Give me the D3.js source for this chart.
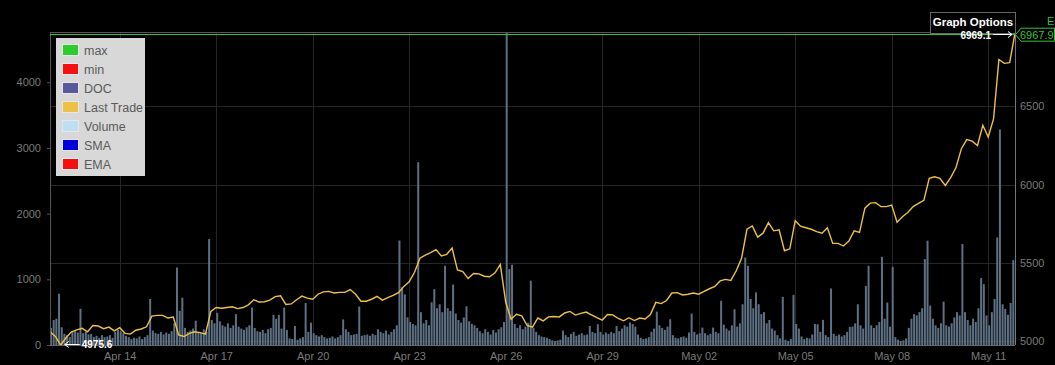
<!DOCTYPE html>
<html>
<head>
<meta charset="utf-8">
<script src="https://cdn.jsdelivr.net/npm/d3@7"></script>
<style>
body{margin:0;background:#000;}
svg{display:block;font-family:"Liberation Sans",Arial,sans-serif;}
</style>
</head>
<body>
<svg width="1055" height="365"></svg>
<script>
// time base of both series
var startTime = "2019-04-11 20:00"
var priceStepHours = 4
var volumeStepHours = 2

// last trade price, one value every 4 hours
var lastTrade = [
5060,5030,4975.6,5022,5060,5072,5082,5060,5100,5097,
5080,5090,5066,5086,5050,5045,5070,5078,5092,5160,
5165,5165,5148,5154,5040,5030,5050,5060,5055,5045,
5190,5215,5210,5215,5220,5208,5215,5232,5265,5250,
5252,5262,5285,5290,5235,5238,5265,5288,5275,5268,
5300,5315,5318,5308,5312,5312,5330,5300,5255,5255,
5268,5286,5262,5278,5292,5310,5350,5380,5440,5530,
5550,5566,5585,5545,5555,5595,5455,5445,5400,5432,
5430,5415,5412,5437,5490,5250,5140,5172,5162,5100,
5090,5148,5130,5155,5158,5155,5180,5190,5167,5178,
5186,5168,5150,5135,5170,5168,5145,5130,5150,5132,
5148,5142,5170,5248,5240,5260,5308,5310,5295,5300,
5308,5300,5318,5335,5350,5385,5395,5388,5450,5530,
5715,5736,5665,5690,5757,5705,5712,5578,5590,5770,
5735,5725,5715,5700,5690,5725,5625,5625,5608,5640,
5705,5695,5850,5882,5885,5860,5860,5870,5760,5795,
5822,5860,5880,5900,6040,6050,6040,5995,6045,6110,
6230,6288,6278,6250,6380,6305,6420,6800,6775,6780,
6967.9
]

// volume, one bar every 2 hours (one row = one day)
var volume = [
260,380,400,780,270,170,150,120,200,210,190,550,
180,200,160,170,120,140,110,150,120,130,150,110,
200,230,210,180,140,120,90,110,100,130,90,120,
150,700,220,180,170,200,160,190,170,210,330,1180,
520,720,260,200,220,250,370,200,180,240,200,1613,
380,330,490,360,300,280,330,260,300,470,280,250,
230,270,300,570,260,210,200,230,180,240,260,460,
400,460,250,570,230,100,90,290,80,100,120,640,
200,340,180,150,130,150,120,100,110,130,100,120,
150,390,240,200,150,160,170,585,140,150,160,140,
170,150,240,200,180,220,160,200,240,300,1590,880,
770,420,350,320,300,2783,500,330,380,300,650,850,
560,620,500,1206,560,520,920,480,380,340,420,590,
360,320,300,260,210,180,240,200,160,230,190,240,
270,350,4750,1155,1221,320,260,300,240,280,340,980,
260,200,150,130,120,110,90,70,60,70,80,220,
150,120,170,200,140,160,180,150,160,290,200,180,
316,200,160,190,170,200,180,290,210,250,300,280,
342,320,280,160,110,90,100,120,200,250,508,300,
260,230,280,392,150,110,100,120,130,110,190,478,
200,160,180,265,180,150,170,265,200,180,672,310,
250,220,300,545,280,330,620,1333,1206,700,560,800,
620,470,500,330,380,250,220,150,100,733,80,60,
90,763,320,250,130,90,110,100,160,320,316,200,
382,150,120,860,170,140,160,130,150,200,275,280,
330,621,300,250,900,1206,300,260,300,350,1343,400,
646,280,1190,120,80,60,70,100,260,400,470,450,
500,560,1308,1588,600,400,300,260,330,660,300,280,
330,420,500,450,1537,500,380,300,400,350,560,1018,
926,450,300,500,700,1639,3282,620,550,460,640,1293
]

var tickDates = ["2019-04-14","2019-04-17","2019-04-20","2019-04-23","2019-04-26","2019-04-29","2019-05-02","2019-05-05","2019-05-08","2019-05-11"]
var volTicks = [0,1000,2000,3000,4000]
var priceTicks = [5000,5500,6000,6500]
var priceMin = 4975.6
var priceMax = 6969.1
var volMax = 4750

var legendNames = ["max","min","DOC","Last Trade","Volume","SMA","EMA"]
var legendColors = ["#2ccc2c","#f41010","#58589c","#edc048","#bcdff4","#0000dd","#f41010"]

var plotL = 50, plotR = 1015, plotT = 33, plotB = 345

var parseTime = d3.timeParse("%Y-%m-%d %H:%M")
var parseDay = d3.timeParse("%Y-%m-%d")
var t0 = parseTime(startTime)
var priceData = lastTrade.map(function(v, i){ return {t: d3.timeHour.offset(t0, i*priceStepHours), v: v} })
var volData = volume.map(function(v, i){ return {t: d3.timeHour.offset(t0, i*volumeStepHours), v: v} })
var ticks = tickDates.map(parseDay)

var xScale = d3.scaleTime().domain([t0, priceData[priceData.length-1].t]).range([plotL, plotR])
var yPrice = d3.scaleLinear().domain([priceMin, priceMax]).range([plotB, plotT])
var yVol = d3.scaleLinear().domain([0, volMax]).range([plotB, plotT])

var svg = d3.select("svg")

// grid
svg.append("g").selectAll("line").data(ticks).enter().append("line")
.attr("x1", function(d){return Math.round(xScale(d))+0.5}).attr("x2", function(d){return Math.round(xScale(d))+0.5})
.attr("y1", plotT).attr("y2", plotB)
.style("stroke", "#262626")
svg.append("g").selectAll("line").data(priceTicks).enter().append("line")
.attr("x1", plotL).attr("x2", plotR)
.attr("y1", function(d){return Math.round(yPrice(d))+0.5}).attr("y2", function(d){return Math.round(yPrice(d))+0.5})
.style("stroke", "#262626")

// volume bars
svg.append("g").attr("id", "volG").selectAll("rect").data(volData).enter().append("rect")
.attr("x", function(d){return xScale(d.t)})
.attr("width", function(d){return Math.max(1, xScale(d3.timeHour.offset(d.t, volumeStepHours)) - xScale(d.t) - 0.7)})
.attr("y", function(d){return yVol(d.v)})
.attr("height", function(d){return plotB - yVol(d.v)})
.style("fill", "#5e7184")

// price line
var line = d3.line().x(function(d){return xScale(d.t)}).y(function(d){return yPrice(d.v)})
svg.append("path").datum(priceData).attr("d", line)
.style("fill", "none").style("stroke", "#eec04a").style("stroke-width", 1.4)

// axes
var yAxisL = d3.axisLeft(yVol).tickValues(volTicks).tickFormat(d3.format("d")).tickSize(3).tickPadding(6)
svg.append("g").attr("id", "yAxisL").attr("transform", "translate(" + plotL + ",0)").call(yAxisL)
var yAxisR = d3.axisRight(yPrice).tickValues(priceTicks).tickFormat(d3.format("d")).tickSize(0).tickPadding(5)
svg.append("g").attr("id", "yAxisR").attr("transform", "translate(" + plotR + ",0)").call(yAxisR)
var xAxis = d3.axisBottom(xScale).tickValues(ticks).tickFormat(d3.timeFormat("%b %d")).tickSize(0).tickPadding(7)
svg.append("g").attr("id", "xAxisG").attr("transform", "translate(0," + plotB + ")").call(xAxis)

svg.selectAll(".domain").style("stroke", "#555")
svg.select("#yAxisL .domain").attr("d", "M0.5," + plotT + "V" + plotB)
svg.select("#yAxisR .domain").attr("d", "M0.5," + plotT + "V" + plotB).style("stroke", "#777")
svg.select("#xAxisG .domain").attr("d", "M" + plotL + ",0.5H" + plotR).style("stroke", "#666")
svg.selectAll(".tick line").style("stroke", "#555")
svg.selectAll(".tick text").style("fill", "#7a7a7a").style("font-size", "11px").style("font-family", "Liberation Sans, Arial, sans-serif")

// top border and max line
svg.append("line").attr("x1", plotL).attr("x2", plotR).attr("y1", plotT - 0.5).attr("y2", plotT - 0.5).style("stroke", "#555")
svg.append("line").attr("x1", plotL).attr("x2", plotR + 5).attr("y1", yPrice(priceMax) + 1.5).attr("y2", yPrice(priceMax) + 1.5).style("stroke", "#33c433")

// graph options button
svg.append("rect").attr("x", 930.5).attr("y", 12.5).attr("width", 85).attr("height", 21).style("fill", "#000").style("stroke", "#666")
svg.append("text").attr("x", 973).attr("y", 26).attr("text-anchor", "middle")
.style("fill", "#fff").style("font-weight", "bold").style("font-size", "11.5px").text("Graph Options")

// max marker
var last = priceData[priceData.length-1]
var mx = xScale(last.t), my = yPrice(priceMax) + 1.5
svg.append("text").attr("x", mx - 24).attr("y", my + 4).attr("text-anchor", "end")
.style("fill", "#fff").style("font-weight", "bold").style("font-size", "10px").text(d3.format(".1f")(priceMax))
svg.append("path").attr("d", "M" + (mx-22) + "," + my + "H" + (mx-3) + "M" + (mx-7) + "," + (my-3) + "L" + (mx-3) + "," + my + "L" + (mx-7) + "," + (my+3))
.style("stroke", "#fff").style("fill", "none").style("stroke-width", 1)

// last price tag
var ly = yPrice(last.v) + 1.5
svg.append("path").attr("d", "M" + (plotR+0.5) + "," + ly + "L" + (plotR+6) + "," + (ly-6.5) + "H1054.5V" + (ly+6.5) + "H" + (plotR+6) + "Z")
.style("fill", "#000").style("stroke", "#3cbf3c")
svg.append("text").attr("x", plotR + 5).attr("y", ly + 4).style("fill", "#3cbf3c").style("font-size", "11px").text(d3.format(".1f")(last.v))
svg.append("text").attr("x", 1047).attr("y", 25).style("fill", "#3cbf3c").style("font-size", "11px").text("E")

// min marker
var minD = priceData.reduce(function(a, b){return b.v < a.v ? b : a})
var nx = xScale(minD.t), ny = yPrice(minD.v)
svg.append("path").attr("d", "M" + (nx+4) + "," + (ny-0.5) + "H" + (nx+19) + "M" + (nx+8) + "," + (ny-3.5) + "L" + (nx+4) + "," + (ny-0.5) + "L" + (nx+8) + "," + (ny+2.5))
.style("stroke", "#fff").style("fill", "none")
svg.append("text").attr("x", nx + 21).attr("y", ny + 3).style("fill", "#fff").style("font-weight", "bold").style("font-size", "10px").text(d3.format(".1f")(minD.v))

// legend
var legend = svg.append("g").attr("id", "legendG")
legend.append("rect").attr("x", 56).attr("y", 38).attr("width", 89).attr("height", 138).style("fill", "#d8d8d8")
var items = legend.selectAll("g").data(legendNames).enter().append("g")
.attr("transform", function(d, i){return "translate(62," + (50 + i*19) + ")"})
items.append("rect").attr("x", 0.5).attr("y", -5.5).attr("width", 16).attr("height", 11)
.style("fill", function(d, i){return legendColors[i]}).style("stroke", "#e6e6e6")
items.append("text").attr("x", 22).attr("y", 4.5).style("fill", "#5a5a5a").style("font-size", "12.5px").text(function(d){return d})
</script>
</body>
</html>
